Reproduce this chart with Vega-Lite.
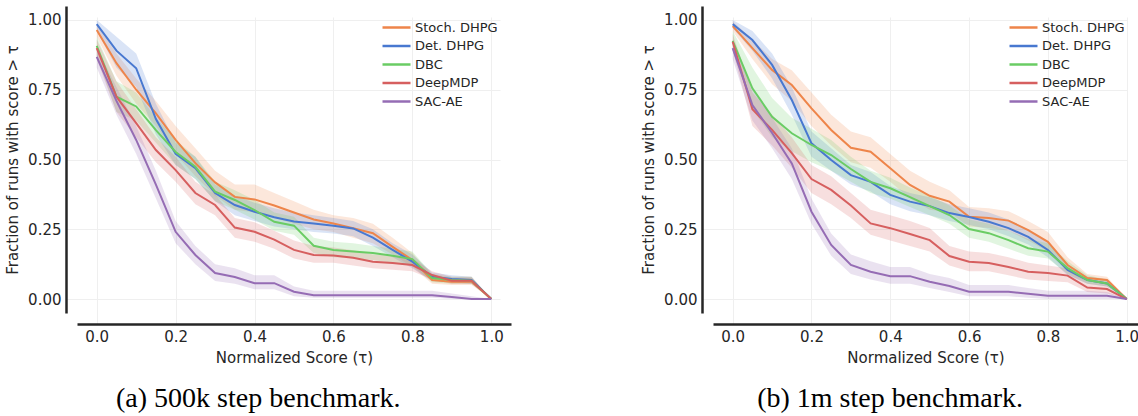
{
  "$schema": "https://vega.github.io/schema/vega-lite/v6.json",
  "padding": {"left": 5, "top": 6, "right": 0, "bottom": 0},
  "background": "white",
  "spacing": 130,
  "config": {
    "view": {"stroke": null},
    "axis": {"domainColor": "#262626", "domainWidth": 2.5, "ticks": false, "tickSize": 0, "labelPadding": 5, "labelFont": "DejaVu Sans", "labelFontSize": 15, "labelColor": "#262626", "titleFont": "DejaVu Sans", "titleFontSize": 15, "titleFontWeight": "normal", "titleColor": "#262626", "gridColor": "#efefef", "gridWidth": 1, "offset": 11},
    "legend": {"orient": "top-right", "offset": 11, "padding": 2, "symbolType": "M-2,0H2", "symbolSize": 196, "symbolStrokeWidth": 2.5, "symbolOpacity": 1, "labelFont": "DejaVu Sans", "labelFontSize": 13, "labelColor": "#262626", "labelOffset": 10, "rowPadding": 2.5},
    "title": {"font": "Liberation Serif", "fontSize": 28, "fontWeight": "normal", "color": "#000000", "orient": "bottom", "offset": 20, "frame": "bounds", "anchor": "middle"}
  },
  "datasets": {
    "a": [
      {"m":"Stoch. DHPG","t":0,"v":0.964,"lo":0.94,"hi":0.985},
      {"m":"Stoch. DHPG","t":0.05,"v":0.845,"lo":0.8,"hi":0.88},
      {"m":"Stoch. DHPG","t":0.1,"v":0.75,"lo":0.7,"hi":0.79},
      {"m":"Stoch. DHPG","t":0.15,"v":0.665,"lo":0.62,"hi":0.71},
      {"m":"Stoch. DHPG","t":0.2,"v":0.57,"lo":0.52,"hi":0.62},
      {"m":"Stoch. DHPG","t":0.25,"v":0.487,"lo":0.44,"hi":0.54},
      {"m":"Stoch. DHPG","t":0.3,"v":0.418,"lo":0.37,"hi":0.46},
      {"m":"Stoch. DHPG","t":0.35,"v":0.366,"lo":0.32,"hi":0.41},
      {"m":"Stoch. DHPG","t":0.4,"v":0.357,"lo":0.31,"hi":0.41},
      {"m":"Stoch. DHPG","t":0.45,"v":0.335,"lo":0.29,"hi":0.38},
      {"m":"Stoch. DHPG","t":0.5,"v":0.31,"lo":0.27,"hi":0.35},
      {"m":"Stoch. DHPG","t":0.55,"v":0.285,"lo":0.25,"hi":0.32},
      {"m":"Stoch. DHPG","t":0.6,"v":0.271,"lo":0.24,"hi":0.3},
      {"m":"Stoch. DHPG","t":0.65,"v":0.254,"lo":0.22,"hi":0.29},
      {"m":"Stoch. DHPG","t":0.7,"v":0.236,"lo":0.2,"hi":0.27},
      {"m":"Stoch. DHPG","t":0.75,"v":0.187,"lo":0.16,"hi":0.22},
      {"m":"Stoch. DHPG","t":0.8,"v":0.14,"lo":0.115,"hi":0.165},
      {"m":"Stoch. DHPG","t":0.85,"v":0.068,"lo":0.055,"hi":0.085},
      {"m":"Stoch. DHPG","t":0.9,"v":0.062,"lo":0.05,"hi":0.075},
      {"m":"Stoch. DHPG","t":0.95,"v":0.062,"lo":0.05,"hi":0.075},
      {"m":"Stoch. DHPG","t":1.0,"v":0,"lo":0,"hi":0},
      {"m":"Det. DHPG","t":0,"v":0.985,"lo":0.96,"hi":1.0},
      {"m":"Det. DHPG","t":0.05,"v":0.89,"lo":0.83,"hi":0.94},
      {"m":"Det. DHPG","t":0.1,"v":0.827,"lo":0.76,"hi":0.88},
      {"m":"Det. DHPG","t":0.15,"v":0.645,"lo":0.59,"hi":0.7},
      {"m":"Det. DHPG","t":0.2,"v":0.52,"lo":0.48,"hi":0.56},
      {"m":"Det. DHPG","t":0.25,"v":0.469,"lo":0.43,"hi":0.51},
      {"m":"Det. DHPG","t":0.3,"v":0.38,"lo":0.35,"hi":0.41},
      {"m":"Det. DHPG","t":0.35,"v":0.337,"lo":0.3,"hi":0.37},
      {"m":"Det. DHPG","t":0.4,"v":0.313,"lo":0.28,"hi":0.345},
      {"m":"Det. DHPG","t":0.45,"v":0.293,"lo":0.26,"hi":0.325},
      {"m":"Det. DHPG","t":0.5,"v":0.278,"lo":0.25,"hi":0.31},
      {"m":"Det. DHPG","t":0.55,"v":0.271,"lo":0.24,"hi":0.3},
      {"m":"Det. DHPG","t":0.6,"v":0.263,"lo":0.235,"hi":0.29},
      {"m":"Det. DHPG","t":0.65,"v":0.253,"lo":0.225,"hi":0.28},
      {"m":"Det. DHPG","t":0.7,"v":0.22,"lo":0.19,"hi":0.25},
      {"m":"Det. DHPG","t":0.75,"v":0.176,"lo":0.15,"hi":0.2},
      {"m":"Det. DHPG","t":0.8,"v":0.134,"lo":0.11,"hi":0.16},
      {"m":"Det. DHPG","t":0.85,"v":0.08,"lo":0.065,"hi":0.095},
      {"m":"Det. DHPG","t":0.9,"v":0.072,"lo":0.06,"hi":0.085},
      {"m":"Det. DHPG","t":0.95,"v":0.068,"lo":0.055,"hi":0.08},
      {"m":"Det. DHPG","t":1.0,"v":0,"lo":0,"hi":0},
      {"m":"DBC","t":0,"v":0.907,"lo":0.87,"hi":0.94},
      {"m":"DBC","t":0.05,"v":0.725,"lo":0.67,"hi":0.78},
      {"m":"DBC","t":0.1,"v":0.69,"lo":0.64,"hi":0.74},
      {"m":"DBC","t":0.15,"v":0.605,"lo":0.56,"hi":0.65},
      {"m":"DBC","t":0.2,"v":0.527,"lo":0.48,"hi":0.57},
      {"m":"DBC","t":0.25,"v":0.474,"lo":0.43,"hi":0.51},
      {"m":"DBC","t":0.3,"v":0.385,"lo":0.35,"hi":0.42},
      {"m":"DBC","t":0.35,"v":0.355,"lo":0.32,"hi":0.39},
      {"m":"DBC","t":0.4,"v":0.319,"lo":0.285,"hi":0.355},
      {"m":"DBC","t":0.45,"v":0.277,"lo":0.245,"hi":0.31},
      {"m":"DBC","t":0.5,"v":0.263,"lo":0.23,"hi":0.295},
      {"m":"DBC","t":0.55,"v":0.191,"lo":0.165,"hi":0.22},
      {"m":"DBC","t":0.6,"v":0.176,"lo":0.15,"hi":0.205},
      {"m":"DBC","t":0.65,"v":0.17,"lo":0.145,"hi":0.2},
      {"m":"DBC","t":0.7,"v":0.165,"lo":0.14,"hi":0.19},
      {"m":"DBC","t":0.75,"v":0.155,"lo":0.13,"hi":0.18},
      {"m":"DBC","t":0.8,"v":0.143,"lo":0.12,"hi":0.17},
      {"m":"DBC","t":0.85,"v":0.075,"lo":0.06,"hi":0.09},
      {"m":"DBC","t":0.9,"v":0.068,"lo":0.055,"hi":0.08},
      {"m":"DBC","t":0.95,"v":0.066,"lo":0.055,"hi":0.08},
      {"m":"DBC","t":1.0,"v":0,"lo":0,"hi":0},
      {"m":"DeepMDP","t":0,"v":0.899,"lo":0.86,"hi":0.93},
      {"m":"DeepMDP","t":0.05,"v":0.725,"lo":0.67,"hi":0.78},
      {"m":"DeepMDP","t":0.1,"v":0.63,"lo":0.58,"hi":0.68},
      {"m":"DeepMDP","t":0.15,"v":0.534,"lo":0.49,"hi":0.58},
      {"m":"DeepMDP","t":0.2,"v":0.462,"lo":0.42,"hi":0.51},
      {"m":"DeepMDP","t":0.25,"v":0.38,"lo":0.34,"hi":0.42},
      {"m":"DeepMDP","t":0.3,"v":0.337,"lo":0.3,"hi":0.375},
      {"m":"DeepMDP","t":0.35,"v":0.256,"lo":0.22,"hi":0.29},
      {"m":"DeepMDP","t":0.4,"v":0.241,"lo":0.205,"hi":0.275},
      {"m":"DeepMDP","t":0.45,"v":0.213,"lo":0.18,"hi":0.245},
      {"m":"DeepMDP","t":0.5,"v":0.176,"lo":0.145,"hi":0.21},
      {"m":"DeepMDP","t":0.55,"v":0.158,"lo":0.13,"hi":0.19},
      {"m":"DeepMDP","t":0.6,"v":0.156,"lo":0.13,"hi":0.185},
      {"m":"DeepMDP","t":0.65,"v":0.148,"lo":0.12,"hi":0.175},
      {"m":"DeepMDP","t":0.7,"v":0.134,"lo":0.11,"hi":0.16},
      {"m":"DeepMDP","t":0.75,"v":0.129,"lo":0.105,"hi":0.155},
      {"m":"DeepMDP","t":0.8,"v":0.122,"lo":0.1,"hi":0.145},
      {"m":"DeepMDP","t":0.85,"v":0.086,"lo":0.07,"hi":0.1},
      {"m":"DeepMDP","t":0.9,"v":0.066,"lo":0.055,"hi":0.08},
      {"m":"DeepMDP","t":0.95,"v":0.066,"lo":0.055,"hi":0.08},
      {"m":"DeepMDP","t":1.0,"v":0,"lo":0,"hi":0},
      {"m":"SAC-AE","t":0,"v":0.868,"lo":0.83,"hi":0.9},
      {"m":"SAC-AE","t":0.05,"v":0.71,"lo":0.66,"hi":0.76},
      {"m":"SAC-AE","t":0.1,"v":0.57,"lo":0.52,"hi":0.62},
      {"m":"SAC-AE","t":0.15,"v":0.41,"lo":0.36,"hi":0.46},
      {"m":"SAC-AE","t":0.2,"v":0.241,"lo":0.2,"hi":0.28},
      {"m":"SAC-AE","t":0.25,"v":0.158,"lo":0.125,"hi":0.19},
      {"m":"SAC-AE","t":0.3,"v":0.093,"lo":0.065,"hi":0.125},
      {"m":"SAC-AE","t":0.35,"v":0.079,"lo":0.055,"hi":0.11},
      {"m":"SAC-AE","t":0.4,"v":0.057,"lo":0.035,"hi":0.085},
      {"m":"SAC-AE","t":0.45,"v":0.057,"lo":0.035,"hi":0.085},
      {"m":"SAC-AE","t":0.5,"v":0.026,"lo":0.01,"hi":0.045},
      {"m":"SAC-AE","t":0.55,"v":0.014,"lo":0.005,"hi":0.03},
      {"m":"SAC-AE","t":0.6,"v":0.014,"lo":0.005,"hi":0.03},
      {"m":"SAC-AE","t":0.65,"v":0.014,"lo":0.005,"hi":0.03},
      {"m":"SAC-AE","t":0.7,"v":0.014,"lo":0.005,"hi":0.03},
      {"m":"SAC-AE","t":0.75,"v":0.014,"lo":0.005,"hi":0.03},
      {"m":"SAC-AE","t":0.8,"v":0.014,"lo":0.005,"hi":0.03},
      {"m":"SAC-AE","t":0.85,"v":0.014,"lo":0.005,"hi":0.03},
      {"m":"SAC-AE","t":0.9,"v":0.007,"lo":0,"hi":0.02},
      {"m":"SAC-AE","t":0.95,"v":0,"lo":0,"hi":0.01},
      {"m":"SAC-AE","t":1.0,"v":0,"lo":0,"hi":0}
    ],
    "b": [
      {"m":"Stoch. DHPG","t":0,"v":0.978,"lo":0.96,"hi":0.995},
      {"m":"Stoch. DHPG","t":0.05,"v":0.899,"lo":0.86,"hi":0.93},
      {"m":"Stoch. DHPG","t":0.1,"v":0.821,"lo":0.77,"hi":0.86},
      {"m":"Stoch. DHPG","t":0.15,"v":0.767,"lo":0.71,"hi":0.82},
      {"m":"Stoch. DHPG","t":0.2,"v":0.683,"lo":0.62,"hi":0.74},
      {"m":"Stoch. DHPG","t":0.25,"v":0.606,"lo":0.55,"hi":0.66},
      {"m":"Stoch. DHPG","t":0.3,"v":0.542,"lo":0.49,"hi":0.6},
      {"m":"Stoch. DHPG","t":0.35,"v":0.528,"lo":0.47,"hi":0.58},
      {"m":"Stoch. DHPG","t":0.4,"v":0.469,"lo":0.42,"hi":0.52},
      {"m":"Stoch. DHPG","t":0.45,"v":0.409,"lo":0.36,"hi":0.46},
      {"m":"Stoch. DHPG","t":0.5,"v":0.37,"lo":0.32,"hi":0.42},
      {"m":"Stoch. DHPG","t":0.55,"v":0.349,"lo":0.31,"hi":0.39},
      {"m":"Stoch. DHPG","t":0.6,"v":0.295,"lo":0.26,"hi":0.33},
      {"m":"Stoch. DHPG","t":0.65,"v":0.29,"lo":0.255,"hi":0.325},
      {"m":"Stoch. DHPG","t":0.7,"v":0.281,"lo":0.245,"hi":0.315},
      {"m":"Stoch. DHPG","t":0.75,"v":0.247,"lo":0.21,"hi":0.28},
      {"m":"Stoch. DHPG","t":0.8,"v":0.205,"lo":0.17,"hi":0.24},
      {"m":"Stoch. DHPG","t":0.85,"v":0.122,"lo":0.1,"hi":0.15},
      {"m":"Stoch. DHPG","t":0.9,"v":0.075,"lo":0.06,"hi":0.09},
      {"m":"Stoch. DHPG","t":0.95,"v":0.068,"lo":0.055,"hi":0.08},
      {"m":"Stoch. DHPG","t":1.0,"v":0,"lo":0,"hi":0},
      {"m":"Det. DHPG","t":0,"v":0.985,"lo":0.97,"hi":1.0},
      {"m":"Det. DHPG","t":0.05,"v":0.928,"lo":0.89,"hi":0.96},
      {"m":"Det. DHPG","t":0.1,"v":0.839,"lo":0.79,"hi":0.88},
      {"m":"Det. DHPG","t":0.15,"v":0.713,"lo":0.66,"hi":0.76},
      {"m":"Det. DHPG","t":0.2,"v":0.558,"lo":0.51,"hi":0.6},
      {"m":"Det. DHPG","t":0.25,"v":0.498,"lo":0.46,"hi":0.54},
      {"m":"Det. DHPG","t":0.3,"v":0.444,"lo":0.41,"hi":0.48},
      {"m":"Det. DHPG","t":0.35,"v":0.42,"lo":0.385,"hi":0.455},
      {"m":"Det. DHPG","t":0.4,"v":0.373,"lo":0.34,"hi":0.405},
      {"m":"Det. DHPG","t":0.45,"v":0.349,"lo":0.315,"hi":0.38},
      {"m":"Det. DHPG","t":0.5,"v":0.333,"lo":0.3,"hi":0.365},
      {"m":"Det. DHPG","t":0.55,"v":0.308,"lo":0.28,"hi":0.34},
      {"m":"Det. DHPG","t":0.6,"v":0.294,"lo":0.265,"hi":0.325},
      {"m":"Det. DHPG","t":0.65,"v":0.277,"lo":0.25,"hi":0.31},
      {"m":"Det. DHPG","t":0.7,"v":0.254,"lo":0.225,"hi":0.285},
      {"m":"Det. DHPG","t":0.75,"v":0.223,"lo":0.195,"hi":0.25},
      {"m":"Det. DHPG","t":0.8,"v":0.176,"lo":0.15,"hi":0.2},
      {"m":"Det. DHPG","t":0.85,"v":0.104,"lo":0.085,"hi":0.125},
      {"m":"Det. DHPG","t":0.9,"v":0.068,"lo":0.055,"hi":0.08},
      {"m":"Det. DHPG","t":0.95,"v":0.056,"lo":0.045,"hi":0.07},
      {"m":"Det. DHPG","t":1.0,"v":0,"lo":0,"hi":0},
      {"m":"DBC","t":0,"v":0.925,"lo":0.89,"hi":0.96},
      {"m":"DBC","t":0.05,"v":0.755,"lo":0.68,"hi":0.83},
      {"m":"DBC","t":0.1,"v":0.653,"lo":0.58,"hi":0.72},
      {"m":"DBC","t":0.15,"v":0.594,"lo":0.53,"hi":0.65},
      {"m":"DBC","t":0.2,"v":0.552,"lo":0.49,"hi":0.61},
      {"m":"DBC","t":0.25,"v":0.516,"lo":0.46,"hi":0.57},
      {"m":"DBC","t":0.3,"v":0.466,"lo":0.42,"hi":0.51},
      {"m":"DBC","t":0.35,"v":0.42,"lo":0.38,"hi":0.46},
      {"m":"DBC","t":0.4,"v":0.397,"lo":0.36,"hi":0.435},
      {"m":"DBC","t":0.45,"v":0.365,"lo":0.33,"hi":0.4},
      {"m":"DBC","t":0.5,"v":0.333,"lo":0.3,"hi":0.37},
      {"m":"DBC","t":0.55,"v":0.301,"lo":0.27,"hi":0.335},
      {"m":"DBC","t":0.6,"v":0.251,"lo":0.22,"hi":0.285},
      {"m":"DBC","t":0.65,"v":0.236,"lo":0.205,"hi":0.27},
      {"m":"DBC","t":0.7,"v":0.211,"lo":0.18,"hi":0.245},
      {"m":"DBC","t":0.75,"v":0.182,"lo":0.155,"hi":0.215},
      {"m":"DBC","t":0.8,"v":0.17,"lo":0.145,"hi":0.2},
      {"m":"DBC","t":0.85,"v":0.111,"lo":0.09,"hi":0.135},
      {"m":"DBC","t":0.9,"v":0.068,"lo":0.055,"hi":0.085},
      {"m":"DBC","t":0.95,"v":0.056,"lo":0.045,"hi":0.07},
      {"m":"DBC","t":1.0,"v":0,"lo":0,"hi":0},
      {"m":"DeepMDP","t":0,"v":0.922,"lo":0.89,"hi":0.95},
      {"m":"DeepMDP","t":0.05,"v":0.68,"lo":0.62,"hi":0.74},
      {"m":"DeepMDP","t":0.1,"v":0.606,"lo":0.55,"hi":0.66},
      {"m":"DeepMDP","t":0.15,"v":0.523,"lo":0.47,"hi":0.58},
      {"m":"DeepMDP","t":0.2,"v":0.43,"lo":0.38,"hi":0.48},
      {"m":"DeepMDP","t":0.25,"v":0.391,"lo":0.34,"hi":0.44},
      {"m":"DeepMDP","t":0.3,"v":0.335,"lo":0.29,"hi":0.38},
      {"m":"DeepMDP","t":0.35,"v":0.271,"lo":0.23,"hi":0.32},
      {"m":"DeepMDP","t":0.4,"v":0.254,"lo":0.21,"hi":0.3},
      {"m":"DeepMDP","t":0.45,"v":0.233,"lo":0.19,"hi":0.28},
      {"m":"DeepMDP","t":0.5,"v":0.211,"lo":0.17,"hi":0.255},
      {"m":"DeepMDP","t":0.55,"v":0.154,"lo":0.12,"hi":0.19},
      {"m":"DeepMDP","t":0.6,"v":0.134,"lo":0.1,"hi":0.17},
      {"m":"DeepMDP","t":0.65,"v":0.129,"lo":0.1,"hi":0.165},
      {"m":"DeepMDP","t":0.7,"v":0.115,"lo":0.085,"hi":0.15},
      {"m":"DeepMDP","t":0.75,"v":0.098,"lo":0.07,"hi":0.13},
      {"m":"DeepMDP","t":0.8,"v":0.093,"lo":0.065,"hi":0.12},
      {"m":"DeepMDP","t":0.85,"v":0.084,"lo":0.06,"hi":0.11},
      {"m":"DeepMDP","t":0.9,"v":0.041,"lo":0.025,"hi":0.06},
      {"m":"DeepMDP","t":0.95,"v":0.036,"lo":0.02,"hi":0.055},
      {"m":"DeepMDP","t":1.0,"v":0,"lo":0,"hi":0},
      {"m":"SAC-AE","t":0,"v":0.899,"lo":0.86,"hi":0.93},
      {"m":"SAC-AE","t":0.05,"v":0.695,"lo":0.64,"hi":0.75},
      {"m":"SAC-AE","t":0.1,"v":0.595,"lo":0.54,"hi":0.65},
      {"m":"SAC-AE","t":0.15,"v":0.486,"lo":0.43,"hi":0.54},
      {"m":"SAC-AE","t":0.2,"v":0.313,"lo":0.27,"hi":0.36},
      {"m":"SAC-AE","t":0.25,"v":0.194,"lo":0.155,"hi":0.235},
      {"m":"SAC-AE","t":0.3,"v":0.122,"lo":0.09,"hi":0.16},
      {"m":"SAC-AE","t":0.35,"v":0.098,"lo":0.07,"hi":0.135},
      {"m":"SAC-AE","t":0.4,"v":0.082,"lo":0.055,"hi":0.115},
      {"m":"SAC-AE","t":0.45,"v":0.082,"lo":0.055,"hi":0.115},
      {"m":"SAC-AE","t":0.5,"v":0.062,"lo":0.04,"hi":0.09},
      {"m":"SAC-AE","t":0.55,"v":0.047,"lo":0.025,"hi":0.075},
      {"m":"SAC-AE","t":0.6,"v":0.026,"lo":0.01,"hi":0.05},
      {"m":"SAC-AE","t":0.65,"v":0.026,"lo":0.01,"hi":0.05},
      {"m":"SAC-AE","t":0.7,"v":0.026,"lo":0.01,"hi":0.05},
      {"m":"SAC-AE","t":0.75,"v":0.019,"lo":0.005,"hi":0.04},
      {"m":"SAC-AE","t":0.8,"v":0.012,"lo":0,"hi":0.03},
      {"m":"SAC-AE","t":0.85,"v":0.012,"lo":0,"hi":0.03},
      {"m":"SAC-AE","t":0.9,"v":0.012,"lo":0,"hi":0.03},
      {"m":"SAC-AE","t":0.95,"v":0.012,"lo":0,"hi":0.025},
      {"m":"SAC-AE","t":1.0,"v":0,"lo":0,"hi":0}
    ]
  },
  "hconcat": [
    {
      "width": 434,
      "height": 307,
      "data": {"name": "a"},
      "title": {"text": "(a) 500k step benchmark."},
      "encoding": {
        "x": {"field": "t", "type": "quantitative", "scale": {"domain": [-0.05, 1.05], "nice": false, "zero": false}, "axis": {"values": [0, 0.2, 0.4, 0.6, 0.8, 1.0], "format": ".1f", "title": "Normalized Score (τ)", "titlePadding": 6}}
      },
      "layer": [
        {
          "mark": {"type": "area", "opacity": 0.2},
          "encoding": {
            "y": {"field": "lo", "type": "quantitative", "scale": {"domain": [-0.05, 1.05], "nice": false, "zero": false}, "axis": {"values": [0, 0.25, 0.5, 0.75, 1.0], "format": ".2f", "title": "Fraction of runs with score > τ", "titlePadding": 7}},
            "y2": {"field": "hi"},
            "fill": {"field": "m", "type": "nominal", "scale": {"domain": ["Stoch. DHPG", "Det. DHPG", "DBC", "DeepMDP", "SAC-AE"], "range": ["#ee854a", "#4878d0", "#6acc64", "#d65f5f", "#956cb4"]}, "legend": {"title": null}}
          }
        },
        {
          "mark": {"type": "line", "strokeWidth": 2},
          "encoding": {
            "y": {"field": "v", "type": "quantitative", "axis": {"values": [0, 0.25, 0.5, 0.75, 1.0], "format": ".2f", "title": "Fraction of runs with score > τ", "titlePadding": 7}},
            "stroke": {"field": "m", "type": "nominal", "scale": {"domain": ["Stoch. DHPG", "Det. DHPG", "DBC", "DeepMDP", "SAC-AE"], "range": ["#ee854a", "#4878d0", "#6acc64", "#d65f5f", "#956cb4"]}, "legend": {"title": null}}
          }
        }
      ]
    },
    {
      "width": 425,
      "height": 307,
      "data": {"name": "b"},
      "title": {"text": "(b) 1m step benchmark."},
      "encoding": {
        "x": {"field": "t", "type": "quantitative", "scale": {"domain": [-0.05, 1.0287], "nice": false, "zero": false}, "axis": {"values": [0, 0.2, 0.4, 0.6, 0.8, 1.0], "format": ".1f", "title": "Normalized Score (τ)", "titlePadding": 6}}
      },
      "layer": [
        {
          "mark": {"type": "area", "opacity": 0.2},
          "encoding": {
            "y": {"field": "lo", "type": "quantitative", "scale": {"domain": [-0.05, 1.05], "nice": false, "zero": false}, "axis": {"values": [0, 0.25, 0.5, 0.75, 1.0], "format": ".2f", "title": "Fraction of runs with score > τ", "titlePadding": 7}},
            "y2": {"field": "hi"},
            "fill": {"field": "m", "type": "nominal", "scale": {"domain": ["Stoch. DHPG", "Det. DHPG", "DBC", "DeepMDP", "SAC-AE"], "range": ["#ee854a", "#4878d0", "#6acc64", "#d65f5f", "#956cb4"]}, "legend": {"title": null}}
          }
        },
        {
          "mark": {"type": "line", "strokeWidth": 2},
          "encoding": {
            "y": {"field": "v", "type": "quantitative", "axis": {"values": [0, 0.25, 0.5, 0.75, 1.0], "format": ".2f", "title": "Fraction of runs with score > τ", "titlePadding": 7}},
            "stroke": {"field": "m", "type": "nominal", "scale": {"domain": ["Stoch. DHPG", "Det. DHPG", "DBC", "DeepMDP", "SAC-AE"], "range": ["#ee854a", "#4878d0", "#6acc64", "#d65f5f", "#956cb4"]}, "legend": {"title": null}}
          }
        }
      ]
    }
  ],
  "resolve": {"scale": {"stroke": "independent", "fill": "independent"}, "legend": {"stroke": "independent", "fill": "independent"}}
}
